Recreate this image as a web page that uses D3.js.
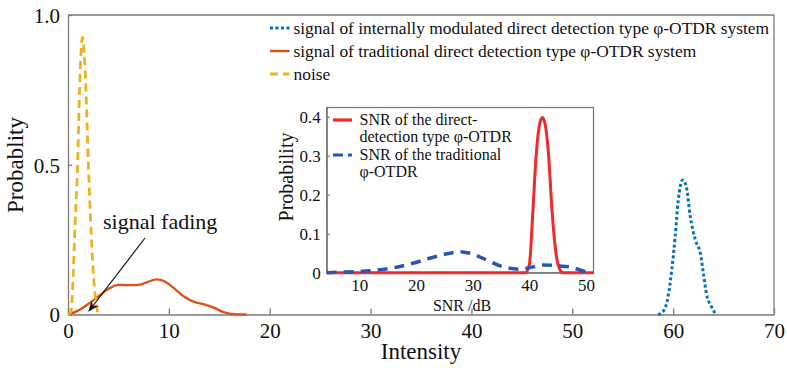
<!DOCTYPE html>
<html><head><meta charset="utf-8">
<script src="https://cdn.jsdelivr.net/npm/d3@7/dist/d3.min.js"></script>
<style>body{margin:0;background:#fff}svg{display:block}</style>
</head><body><svg id="c" width="787" height="368"></svg>
<script>
// ---- main plot data ----
const xTicks = [0,10,20,30,40,50,60,70];
const yTicks = [0,0.5,1.0];
const yTickLabels = ["0","0.5","1.0"];
const noiseX = [0,0.3,0.5,0.7,0.95,1.15,1.3,1.42,1.55,1.78,2.02,2.3,2.55,2.75,2.97];
const noiseY = [0,0.01,0.12,0.3,0.5,0.75,0.88,0.925,0.9,0.75,0.5,0.27,0.12,0.05,0];
const tradX = [0,1,2,3,4,5,6,7,8,8.8,9.6,10.5,11.5,12.5,13.5,14.5,15.5,16.5,17.7];
const tradY = [0,0.013,0.035,0.06,0.085,0.099,0.098,0.099,0.11,0.117,0.11,0.088,0.06,0.042,0.034,0.022,0.007,0.001,0];
const intX = [58.5,59.0,59.5,59.86,60.2,60.5,60.95,61.3,61.7,62.2,62.7,63.0,63.3,63.8,64.25];
const intY = [0,0.01,0.06,0.149,0.26,0.38,0.449,0.427,0.327,0.249,0.204,0.138,0.07,0.026,0];
const legendLabels = ["signal of internally modulated direct detection type \u03C6-OTDR system",
  "signal of traditional direct detection type \u03C6-OTDR system","noise"];
// ---- inset data ----
const inXTicks = [10,20,30,40,50];
const inYTicks = [0,0.1,0.2,0.3,0.4];
const inYTickLabels = ["0","0.1","0.2","0.3","0.4"];
const snrDirX = [4.25,39.3,40.0,40.6,41.2,41.8,42.3,42.8,43.4,44.0,44.7,45.5,46.0,51.32];
const snrDirY = [0,0,0.02,0.15,0.3,0.38,0.398,0.38,0.3,0.16,0.05,0.005,0,0];
const snrTradX = [4.25,8,11.9,15.4,18.9,22.4,26,27.8,29.5,32.4,35.4,38.3,40.7,42.4,44.8,47.1,49.8,50.6];
const snrTradY = [0,0.002,0.005,0.011,0.022,0.037,0.05,0.054,0.05,0.033,0.015,0.009,0.015,0.02,0.018,0.015,0.003,0];
const insetLegend = [["SNR of the direct-","detection type \u03C6-OTDR"],["SNR of the traditional","\u03C6-OTDR"]];

const FONT = "'Liberation Serif', 'Times New Roman', serif";
const svg = d3.select("#c");
const AX = "#7a7a7a";
const zip = (a,b)=>a.map((v,i)=>[v,b[i]]);
const txt = (sel,size)=>sel.style("font-family",FONT).style("font-size",size+"px").attr("fill","#111");

// main scales
const x = d3.scaleLinear().domain([0,70]).range([68,774]);
const y = d3.scaleLinear().domain([0,1]).range([314.5,15]);

const gx = svg.append("g").attr("transform","translate(0,314.5)")
  .call(d3.axisBottom(x).tickValues(xTicks).tickSizeInner(-6).tickSizeOuter(0).tickPadding(9).tickFormat(d3.format("d")));
const gy = svg.append("g").attr("transform","translate(68,0)")
  .call(d3.axisLeft(y).tickValues(yTicks).tickSizeInner(-4).tickSizeOuter(0).tickPadding(8).tickFormat((d,i)=>yTickLabels[i]));
[gx,gy].forEach(g=>{g.selectAll("path,line").attr("stroke",AX).attr("stroke-width",1.3);
  txt(g.selectAll("text"),21);});
gy.selectAll("text").attr("dy","0.35em");
svg.append("line").attr("x1",68).attr("x2",774).attr("y1",15).attr("y2",15).attr("stroke",AX).attr("stroke-width",1.3);
svg.append("line").attr("x1",774).attr("x2",774).attr("y1",15).attr("y2",314.5).attr("stroke",AX).attr("stroke-width",1.3);

txt(svg.append("text").attr("transform","translate(23,165) rotate(-90)").attr("text-anchor","middle").text("Probablity"),23);
txt(svg.append("text").attr("x",421).attr("y",359).attr("text-anchor","middle").text("Intensity"),23);

const line = d3.line().x(d=>x(d[0])).y(d=>y(d[1])).curve(d3.curveMonotoneX);
const cBlue="#0072BD", cRed="#D95319", cYel="#EDB120";
svg.append("path").attr("d",line(zip(tradX,tradY))).attr("fill","none").attr("stroke",cRed).attr("stroke-width",2.3);
svg.append("path").attr("d",line(zip(noiseX,noiseY))).attr("fill","none").attr("stroke",cYel).attr("stroke-width",2.8).attr("stroke-dasharray","8,5");
svg.append("path").attr("d",line(zip(intX,intY))).attr("fill","none").attr("stroke",cBlue).attr("stroke-width",3).attr("stroke-dasharray","3,2.5");

// annotation
svg.append("defs").append("marker").attr("id","ah").attr("viewBox","0 0 10 10").attr("refX",9).attr("refY",5)
  .attr("markerWidth",9).attr("markerHeight",9).attr("orient","auto-start-reverse")
  .append("path").attr("d","M0,1 L10,5 L0,9 L3,5 Z").attr("fill","#111");
svg.append("line").attr("x1",145).attr("y1",238).attr("x2",89).attr("y2",311).attr("stroke","#111").attr("stroke-width",1.2).attr("marker-end","url(#ah)");
txt(svg.append("text").attr("x",103).attr("y",229).text("signal fading"),22);

// main legend
const legStyles = [{c:cBlue,d:"3,2.5",w:3},{c:cRed,d:null,w:2.5},{c:cYel,d:"8,5",w:2.8}];
const legY = [28,51,74];
legendLabels.forEach((t,i)=>{
  const l = svg.append("line").attr("x1",270).attr("x2",289.5).attr("y1",legY[i]).attr("y2",legY[i]).attr("stroke",legStyles[i].c).attr("stroke-width",legStyles[i].w);
  if(legStyles[i].d) l.attr("stroke-dasharray",legStyles[i].d);
  txt(svg.append("text").attr("x",293.5).attr("y",legY[i]).attr("dy","0.33em").text(t),17.4);
});

// ---- inset ----
const ix = d3.scaleLinear().domain([4.25,51.32]).range([326.7,593.5]);
const iy = d3.scaleLinear().domain([0,0.4236]).range([272.7,107.5]);
svg.append("rect").attr("x",326.7).attr("y",107.5).attr("width",593.5-326.7).attr("height",272.7-107.5).attr("fill","#fff").attr("stroke",AX).attr("stroke-width",1.3);
const igx = svg.append("g").attr("transform","translate(0,272.7)")
  .call(d3.axisBottom(ix).tickValues(inXTicks).tickSizeInner(0).tickSizeOuter(0).tickPadding(6).tickFormat(d3.format("d")));
const igy = svg.append("g").attr("transform","translate(326.7,0)")
  .call(d3.axisLeft(iy).tickValues(inYTicks).tickSizeInner(-3).tickSizeOuter(0).tickPadding(6).tickFormat((d,i)=>inYTickLabels[i]));
[igx,igy].forEach(g=>{g.selectAll("path,line").attr("stroke",AX).attr("stroke-width",1.3);
  txt(g.selectAll("text"),17);});
igy.selectAll("text").attr("dy","0.35em");
txt(svg.append("text").attr("transform","translate(293,177) rotate(-90)").attr("text-anchor","middle").text("Probability"),20);
txt(svg.append("text").attr("x",462).attr("y",311).attr("text-anchor","middle").text("SNR /dB"),16);

const iline = d3.line().x(d=>ix(d[0])).y(d=>iy(d[1])).curve(d3.curveMonotoneX);
const cR2="#ee2a2a", cB2="#2b55b3";
svg.append("path").attr("d",iline(zip(snrDirX,snrDirY))).attr("fill","none").attr("stroke",cR2).attr("stroke-width",3);
svg.append("path").attr("d",iline(zip(snrTradX,snrTradY))).attr("fill","none").attr("stroke",cB2).attr("stroke-width",3.5).attr("stroke-dasharray","10,7");

const inLeg = [{c:cR2,d:null,y:120},{c:cB2,d:"10,5",y:155}];
insetLegend.forEach((lines,i)=>{
  const l = svg.append("line").attr("x1",333).attr("x2",352).attr("y1",inLeg[i].y).attr("y2",inLeg[i].y).attr("stroke",inLeg[i].c).attr("stroke-width",3.2);
  if(inLeg[i].d) l.attr("stroke-dasharray",inLeg[i].d);
  const t = txt(svg.append("text").attr("x",359.5).attr("y",inLeg[i].y),16);
  lines.forEach((s,j)=>t.append("tspan").attr("x",359.5).attr("dy", j===0 ? "0.33em" : "17px").text(s));
});
</script></body></html>
